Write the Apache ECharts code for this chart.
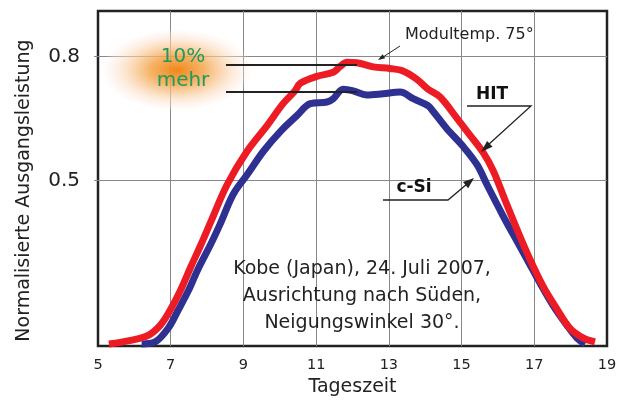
<!DOCTYPE html>
<html>
<head>
<meta charset="utf-8">
<script src="https://cdn.jsdelivr.net/npm/echarts@6/dist/echarts.min.js"></script>
<style>
  html, body { margin: 0; padding: 0; background: #fff; }
  #chart { width: 630px; height: 402px; }
</style>
</head>
<body>
<div id="chart"></div>
<script>
// Tageszeit (h) / normalisierte Leistung
var hitData = [
  [5.3, 0.105], [5.9, 0.114], [6.38, 0.126], [6.71, 0.15], [6.98, 0.186],
  [7.26, 0.233], [7.56, 0.293], [7.83, 0.345], [8.11, 0.402], [8.55, 0.49],
  [9.1, 0.571], [9.65, 0.633], [10.09, 0.686], [10.42, 0.717], [10.56, 0.735],
  [11.02, 0.752], [11.47, 0.762], [11.66, 0.776], [11.85, 0.786], [12.12, 0.785],
  [12.57, 0.775], [13.03, 0.771], [13.39, 0.765], [13.77, 0.745], [14.08, 0.721],
  [14.41, 0.702], [14.88, 0.65], [15.23, 0.61], [15.6, 0.567], [15.87, 0.524],
  [16.2, 0.452], [16.53, 0.381], [16.88, 0.31], [17.24, 0.245], [17.62, 0.19],
  [17.98, 0.143], [18.34, 0.12], [18.67, 0.11]
];
var csiData = [
  [6.2, 0.105], [6.57, 0.11], [6.93, 0.143], [7.2, 0.186], [7.48, 0.233],
  [7.75, 0.286], [8.11, 0.348], [8.35, 0.393], [8.72, 0.467], [9.1, 0.514],
  [9.55, 0.571], [10.02, 0.619], [10.47, 0.657], [10.84, 0.686], [11.3, 0.69],
  [11.47, 0.698], [11.74, 0.721], [12.02, 0.717], [12.39, 0.707], [12.84, 0.71],
  [13.31, 0.714], [13.67, 0.698], [14.08, 0.681], [14.22, 0.667], [14.59, 0.626],
  [15.04, 0.583], [15.43, 0.538], [15.7, 0.49], [16.14, 0.415], [16.42, 0.37],
  [16.8, 0.31], [17.16, 0.252], [17.52, 0.198], [17.9, 0.15], [18.18, 0.119],
  [18.4, 0.105]
];
var xLabels = [5, 7, 9, 11, 13, 15, 17, 19];
var xGrid = [7, 9, 11, 13, 15, 17];
var yLabels = [0.5, 0.8];

var font = 'DejaVu Sans';

// Pfeil als Dreieck an der Spitze (x2,y2)
function arrowHead(x1, y1, x2, y2, len, wid) {
  var dx = x2 - x1, dy = y2 - y1;
  var d = Math.sqrt(dx * dx + dy * dy);
  var ux = dx / d, uy = dy / d;
  var bx = x2 - ux * len, by = y2 - uy * len;
  return {
    type: 'polygon', z: 11,
    shape: { points: [[x2, y2], [bx - uy * wid, by + ux * wid], [bx + uy * wid, by - ux * wid]] },
    style: { fill: '#222' }
  };
}
function line(points, w) {
  return { type: 'polyline', z: 11, shape: { points: points }, style: { stroke: '#222', lineWidth: w, fill: null } };
}
function label(x, y, text, size, extra) {
  return {
    type: 'text', x: x, y: y, z: 11,
    style: Object.assign({ text: text, fontFamily: font, fontSize: size, fill: '#222', align: 'center', verticalAlign: 'middle' }, extra || {})
  };
}

var option = {
  backgroundColor: '#fff',
  animation: false,
  grid: {
    left: 98, right: 23, top: 11, bottom: 54,
    show: true, borderColor: '#222', borderWidth: 2.5, backgroundColor: 'transparent'
  },
  xAxis: {
    type: 'value', min: 5, max: 19,
    name: 'Tageszeit', nameLocation: 'middle', nameGap: 29,
    nameTextStyle: { fontFamily: font, fontSize: 19, color: '#222' },
    axisLine: { show: false },
    axisTick: { show: false, customValues: xGrid },
    axisLabel: { customValues: xLabels, fontFamily: font, fontSize: 14.5, color: '#222', margin: 12 },
    splitLine: { show: true, lineStyle: { color: '#888', width: 1 } }
  },
  yAxis: {
    type: 'value', min: 0.1, max: 0.91,
    name: 'Normalisierte Ausgangsleistung', nameLocation: 'middle', nameGap: 64, nameRotate: 90,
    nameTextStyle: { fontFamily: font, fontSize: 19, color: '#222', padding: [0, 24, 0, 0] },
    axisLine: { show: false },
    axisTick: { show: true, inside: false, length: 4, customValues: yLabels, lineStyle: { color: '#888' } },
    axisLabel: {
      customValues: yLabels, fontFamily: font, fontSize: 20, color: '#222', margin: 18,
      formatter: function (v) { return v.toFixed(1); }
    },
    splitLine: { show: true, lineStyle: { color: '#888', width: 1 } }
  },
  series: [{
    name: 'c-Si', type: 'line', data: csiData, smooth: 0.35, showSymbol: false, z: 3,
    lineStyle: { color: '#2e3192', width: 7 }
  }, {
    name: 'HIT', type: 'line', data: hitData, smooth: 0.35, showSymbol: false, z: 4,
    lineStyle: { color: '#ed1c24', width: 7 }
  }],
  graphic: [
    {
      type: 'circle', x: 177, y: 70, scaleX: 1.85, scaleY: 1, z: 10,
      shape: { cx: 0, cy: 0, r: 41 },
      style: {
        fill: {
          type: 'radial', x: 0.5, y: 0.5, r: 0.5,
          colorStops: [
            { offset: 0, color: 'rgba(240,135,25,1)' },
            { offset: 0.35, color: 'rgba(244,165,75,0.85)' },
            { offset: 0.7, color: 'rgba(250,215,180,0.6)' },
            { offset: 0.9, color: 'rgba(253,235,225,0.35)' },
            { offset: 1, color: 'rgba(255,240,235,0)' }
          ]
        }
      }
    },
    label(183, 57, '10%', 20, { fill: '#1f9a5c' }),
    label(183, 81, 'mehr', 20, { fill: '#1f9a5c' }),
    line([[226, 65], [357, 65]], 2),
    line([[226, 92], [357, 92]], 2),
    label(405, 35, 'Modultemp. 75°', 16, { align: 'left' }),
    line([[400, 46], [380, 59]], 1),
    arrowHead(400, 46, 378, 60, 7, 2.5),
    label(492, 95, 'HIT', 17, { fontWeight: 'bold', fill: '#111' }),
    line([[467, 106], [531, 106], [488, 145]], 1.3),
    arrowHead(531, 106, 481, 152, 12, 4),
    label(414, 188, 'c-Si', 17, { fontWeight: 'bold', fill: '#111' }),
    line([[383, 200], [448, 200], [467, 184]], 1.3),
    arrowHead(448, 200, 474, 178, 11, 4),
    label(362, 296, 'Kobe (Japan), 24. Juli 2007,\nAusrichtung nach Süden,\nNeigungswinkel 30°.', 19, { lineHeight: 27 })
  ]
};

var myChart = echarts.init(document.getElementById('chart'));
myChart.setOption(option);
</script>
</body>
</html>
